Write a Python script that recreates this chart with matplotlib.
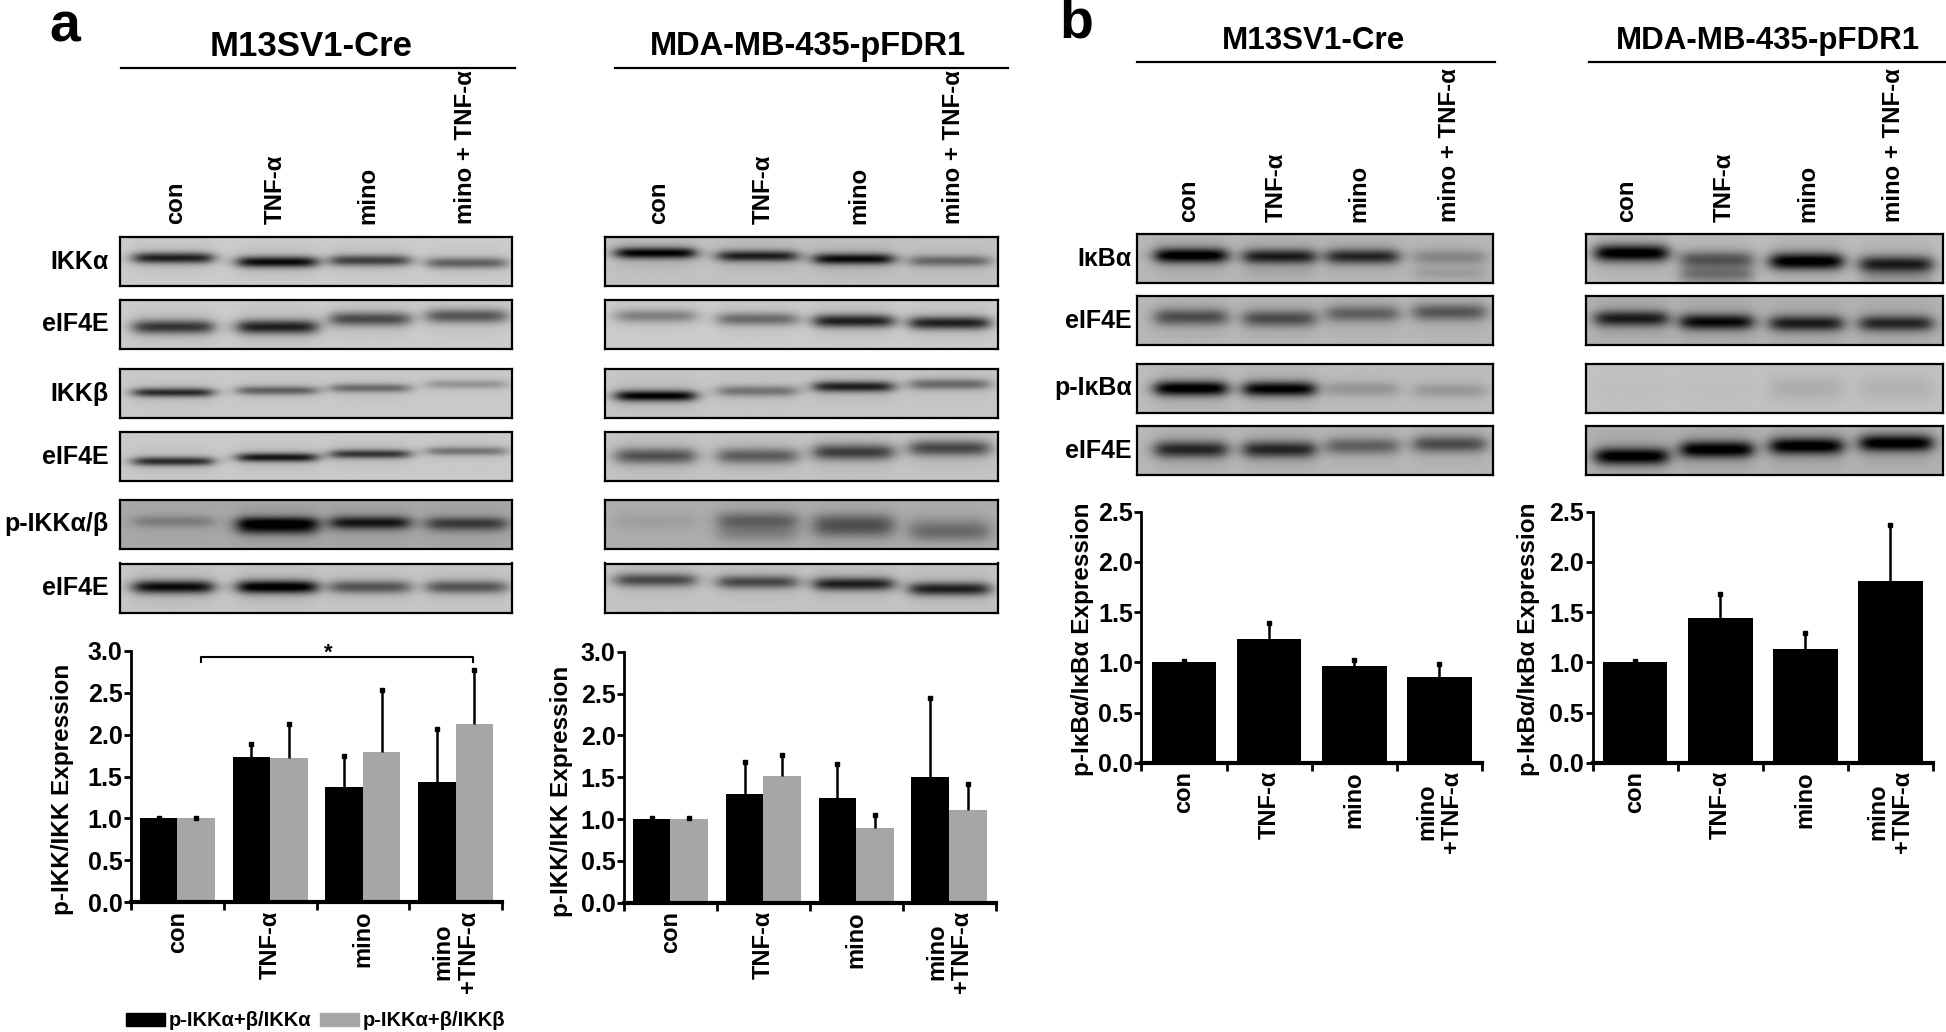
import numpy as np
import matplotlib
matplotlib.use("Agg")
import matplotlib.pyplot as plt

plt.rcParams['font.family'] = ['Liberation Sans', 'DejaVu Sans']
plt.rcParams['font.weight'] = 'bold'

W, H = 1946, 1032

groups = ['con', 'TNF-α', 'mino', 'mino\n+TNF-α']
lanes = ['con', 'TNF-α', 'mino', 'mino + TNF-α']

# bar values
a1_black = [1.0, 1.73, 1.37, 1.44]
a1_gray = [1.0, 1.72, 1.79, 2.13]
a1_black_err = [0.01, 0.16, 0.38, 0.63]
a1_gray_err = [0.01, 0.41, 0.74, 0.64]

a2_black = [1.0, 1.30, 1.25, 1.50]
a2_gray = [1.0, 1.51, 0.89, 1.11]
a2_black_err = [0.01, 0.38, 0.41, 0.95]
a2_gray_err = [0.01, 0.26, 0.16, 0.31]

b1_vals = [1.0, 1.23, 0.96, 0.85]
b1_err = [0.01, 0.16, 0.06, 0.13]
b2_vals = [1.0, 1.44, 1.13, 1.81]
b2_err = [0.01, 0.24, 0.16, 0.56]

# blots: darkness of each lane, height of band in the panel (0 top, 1 bottom),
# band thickness and background grey of each row
a_labels = ['IKKα', 'eIF4E', 'IKKβ', 'eIF4E', 'p-IKKα/β', 'eIF4E']
a_rows = [(237, 286.5), (299.6, 349), (369, 418), (432, 481), (500, 549), (563.5, 613)]
a_left_dark = [[.8, .9, .65, .5], [.7, .8, .6, .55], [.75, .5, .45, .25],
               [.75, .85, .7, .4], [.25, .85, .6, .5], [.9, 1, .55, .55]]
a_left_pos = [[.44, .52, .49, .54], [.56, .56, .40, .34], [.48, .44, .39, .31],
              [.60, .52, .45, .39], [.44, .46, .44, .46], [.48, .48, .48, .48]]
a_left_sig = [.11, .14, .09, .09, .12, .13]
a_left_bg = [.80, .80, .79, .79, .66, .78]
a_right_dark = [[.95, .8, .9, .45], [.35, .45, .8, .8], [.95, .4, .8, .45],
                [.55, .5, .65, .6], [.08, .4, .35, .3], [.6, .6, .8, .8]]
a_right_pos = [[.34, .40, .46, .50], [.34, .40, .44, .48], [.55, .45, .36, .31],
               [.49, .49, .41, .33], [.44, .42, .44, .68], [.34, .38, .42, .52]]
a_right_sig = [.11, .13, .11, .16, .17, .13]
a_right_bg = [.76, .80, .78, .77, .68, .77]

b_labels = ['IκBα', 'eIF4E', 'p-IκBα', 'eIF4E']
b_rows = [(234, 283), (296, 345), (364, 413), (426, 475)]
b_left_dark = [[1, .8, .75, .25], [.55, .55, .45, .5], [1, .95, .2, .18], [.75, .75, .45, .55]]
b_left_pos = [[.44, .46, .46, .47], [.43, .46, .36, .33], [.50, .51, .51, .54], [.48, .48, .41, .37]]
b_left_sig = [.15, .17, .15, .17]
b_left_bg = [.72, .72, .74, .72]
b_right_dark = [[1, .5, 1, .8], [.8, .9, .8, .75], [.02, .02, .1, .08], [1, 1, 1, 1]]
b_right_pos = [[.39, .52, .56, .62], [.46, .53, .56, .56], [.50, .50, .50, .50], [.62, .48, .41, .35]]
b_right_sig = [.17, .16, .25, .17]
b_right_bg = [.74, .70, .76, .70]

# second, fainter bands: row, lane, position, darkness
a_left_extra = [(4, 1, .60, .55), (4, 2, .52, .3), (4, 3, .56, .2)]
a_right_extra = [(4, 1, .68, .2), (4, 2, .62, .3), (4, 3, .50, .15)]
b_left_extra = [(0, 3, .80, .12), (0, 1, .80, .04)]
b_right_extra = [(0, 1, .83, .35), (0, 3, .90, .12)]

fig = plt.figure(figsize=(W / 100, H / 100), dpi=100, facecolor='white')


def px_axes(x0, y0, x1, y1):
    return fig.add_axes([x0 / W, 1 - y1 / H, (x1 - x0) / W, (y1 - y0) / H])


def blot(x0, x1, row, dark, pos, centers, bg, sig, extra, halfw=.10):
    yy, xx = np.mgrid[0:1:110j, 0:1:380j]
    band = np.zeros_like(xx)
    halo = np.zeros_like(xx)
    items = list(zip(centers, dark, pos)) + [(centers[l], d, p) for l, p, d in extra]
    for c, d, p in items:
        across = 0.5 * (np.tanh((xx - c + halfw) / .025) - np.tanh((xx - c - halfw) / .025))
        band += d * across * np.exp(-((yy - p) / sig) ** 2)
        halo += d * across * np.exp(-((yy - p) / (sig * 2.6)) ** 2)
    img = bg - (bg - .03) * np.clip(band, 0, 1) - .09 * np.clip(halo, 0, 1)
    ax = px_axes(x0, row[0], x1, row[1])
    ax.imshow(img, cmap='gray', vmin=0, vmax=1, aspect='auto')
    ax.set_xticks([])
    ax.set_yticks([])
    for s in ax.spines.values():
        s.set_linewidth(1.6)


def bar_chart(x0, x1, ytop, ybot, ymax, ylabel, label_x, label_y, series, errs, colors):
    ax = px_axes(x0, ytop, x1, ybot)
    x = np.arange(4)
    n = len(series)
    w = 0.405 if n == 2 else 0.76
    for i in range(n):
        off = (i - (n - 1) / 2) * w
        tops = np.array(series[i]) + np.array(errs[i])
        ax.bar(x + off, series[i], w, color=colors[i], zorder=2)
        ax.vlines(x + off, series[i], tops, color='black', lw=1.8, zorder=3)
        ax.plot(x + off, tops, 's', color='black', ms=3, zorder=3, clip_on=False)
    ax.set_xlim(-0.5, 3.5)
    ax.set_ylim(0, ymax)
    ax.set_yticks(np.arange(0, ymax + .01, .5))
    ax.set_yticklabels(['%.1f' % v for v in np.arange(0, ymax + .01, .5)], fontsize=18)
    ax.set_xticks(np.arange(-0.5, 4, 1))
    ax.set_xticklabels([])
    ax.set_xticks(x, minor=True)
    ax.set_xticklabels(groups, minor=True, rotation=90, fontsize=17, ha='center', va='top',
                       multialignment='center', linespacing=1.1)
    ax.tick_params(axis='x', which='major', length=6, width=2)
    ax.tick_params(axis='x', which='minor', length=0, pad=6)
    ax.tick_params(axis='y', length=5, width=2, pad=1)
    for s in ['top', 'right']:
        ax.spines[s].set_visible(False)
    ax.spines['left'].set_linewidth(2)
    ax.spines['bottom'].set_linewidth(3)
    ax.set_ylabel(ylabel, fontsize=17.5, fontweight='bold')
    ax.yaxis.set_label_coords((label_x - x0) / (x1 - x0), (ybot - label_y) / (ybot - ytop))
    return ax


def row_extra(extra, i):
    return [e[1:] for e in extra if e[0] == i]


# western blots
a_l_centers = [.135, .40, .637, .883]
a_r_centers = [.128, .388, .633, .878]
b_l_centers = [.151, .40, .634, .879]
b_r_centers = [.127, .366, .618, .87]
for i, row in enumerate(a_rows):
    blot(119.5, 512, row, a_left_dark[i], a_left_pos[i], a_l_centers, a_left_bg[i], a_left_sig[i],
         row_extra(a_left_extra, i))
    blot(605, 998, row, a_right_dark[i], a_right_pos[i], a_r_centers, a_right_bg[i], a_right_sig[i],
         row_extra(a_right_extra, i))
    fig.text(108.5 / W, 1 - (row[0] + row[1]) / 2 / H, a_labels[i], ha='right', va='center', fontsize=18)
for i, row in enumerate(b_rows):
    blot(1137, 1493, row, b_left_dark[i], b_left_pos[i], b_l_centers, b_left_bg[i], b_left_sig[i],
         row_extra(b_left_extra, i))
    blot(1586, 1943, row, b_right_dark[i], b_right_pos[i], b_r_centers, b_right_bg[i], b_right_sig[i],
         row_extra(b_right_extra, i))
    fig.text(1131.6 / W, 1 - (row[0] + row[1]) / 2 / H, b_labels[i], ha='right', va='center', fontsize=18)

# lane labels above blots
for xs, bottom in [([176, 275, 368, 466], 224), ([659, 763.6, 859, 953], 224),
                   ([1189, 1276.5, 1359, 1449], 222), ([1627, 1724, 1808, 1893], 222)]:
    for xp, lab in zip(xs, lanes):
        fig.text(xp / W, 1 - bottom / H, lab, rotation=90, ha='center', va='bottom', fontsize=17.3)

# headers
for name, xc, yc, l0, l1, yl, fs in [('M13SV1-Cre', 311, 47, 121, 515, 68, 25),
                                     ('MDA-MB-435-pFDR1', 808, 47, 615, 1008, 68, 23.5),
                                     ('M13SV1-Cre', 1313, 41, 1137, 1495, 62, 22.6),
                                     ('MDA-MB-435-pFDR1', 1768, 41, 1589, 1945, 62, 22.5)]:
    fig.text(xc / W, 1 - yc / H, name, ha='center', va='center', fontsize=fs)
    fig.add_artist(plt.Line2D([l0 / W, l1 / W], [1 - yl / H, 1 - yl / H], color='black', lw=1.6))
fig.text(65 / W, 1 - 28 / H, 'a', ha='center', va='center', fontsize=40)
fig.text(1076 / W, 1 - 24 / H, 'b', ha='center', va='center', fontsize=40)

# bar charts
black, gray = '#000000', '#a6a6a6'
ax1 = bar_chart(131, 502, 650.7, 902.3, 3.0, 'p-IKK/IKK Expression', 74, 789,
                [a1_black, a1_gray], [a1_black_err, a1_gray_err], [black, gray])
ax2 = bar_chart(624, 995.5, 651.7, 902.7, 3.0, 'p-IKK/IKK Expression', 573, 791,
                [a2_black, a2_gray], [a2_black_err, a2_gray_err], [black, gray])
bar_chart(1141.4, 1482, 511.7, 762.7, 2.5, 'p-IκBα/IκBα Expression', 1094, 639,
          [b1_vals], [b1_err], [black])
bar_chart(1592.5, 1933, 511.7, 762.7, 2.5, 'p-IκBα/IκBα Expression', 1540, 639,
          [b2_vals], [b2_err], [black])

# significance bracket
ax1.plot([.256, .256, 3.19, 3.19], [2.87, 2.92, 2.92, 2.87], color='black', lw=1.5, clip_on=False)
ax1.text(1.63, 2.97, '*', ha='center', va='center', fontsize=16)

# legend
handles = [plt.Rectangle((0, 0), 1, 1, color=black), plt.Rectangle((0, 0), 1, 1, color=gray)]
fig.legend(handles, ['p-IKKα+β/IKKα', 'p-IKKα+β/IKKβ'], ncol=2, frameon=False, fontsize=14.5,
           loc='center left', bbox_to_anchor=(126 / W, 1 - 1021 / H), handlelength=1.95, handleheight=.65,
           handletextpad=0.15, columnspacing=0.45, borderpad=0, borderaxespad=0)

fig.savefig('out.png', dpi=100)
